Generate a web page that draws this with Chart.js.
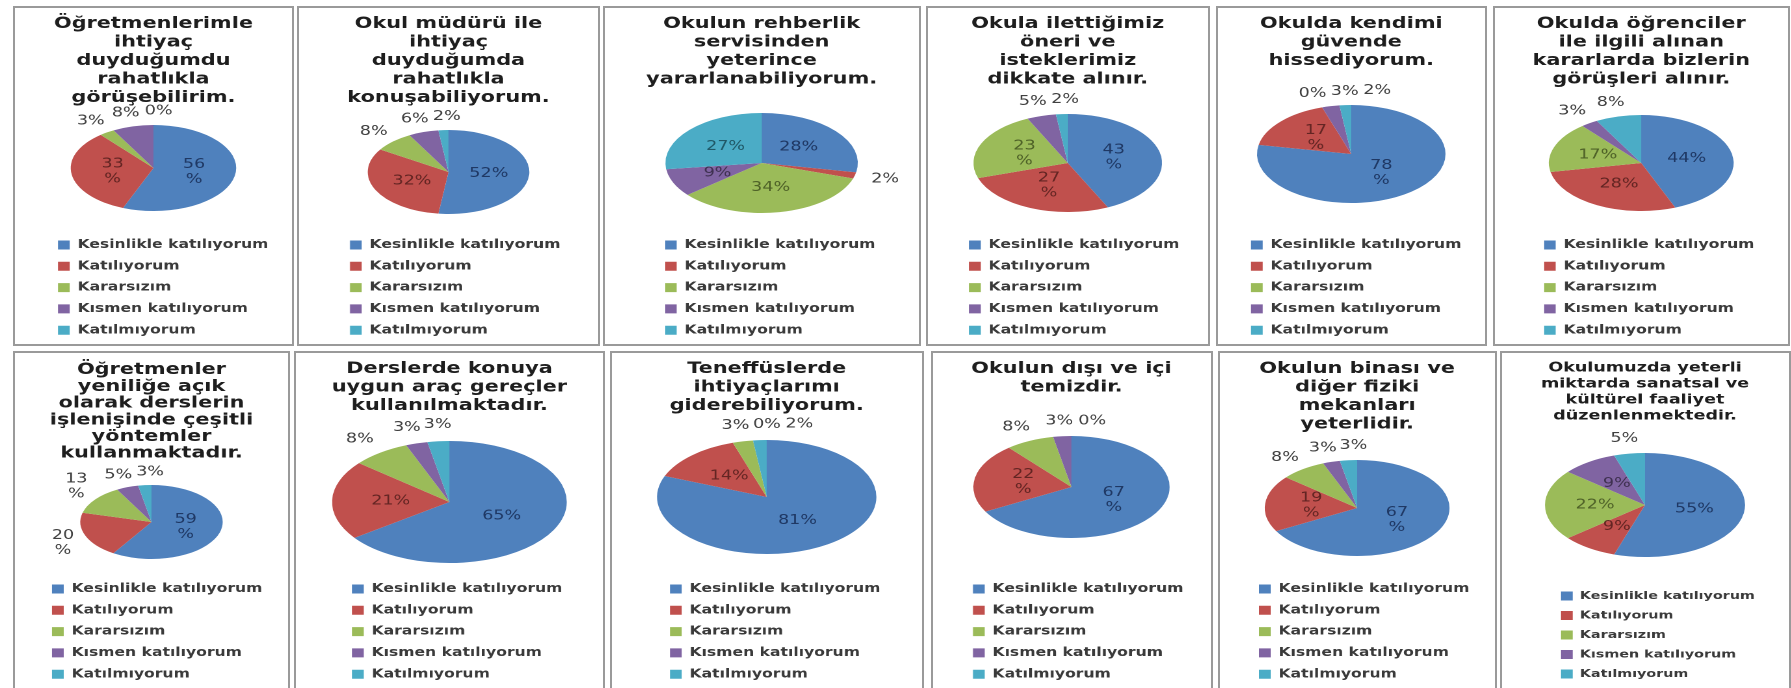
<!DOCTYPE html>
<html lang="tr">
<head>
<meta charset="UTF-8">
<title>Anket sonuçları</title>
<script src="https://cdn.jsdelivr.net/npm/chart.js"></script>
<style>
  html, body { margin: 0; padding: 0; width: 1791px; height: 688px; background: #fff; overflow: hidden; }
  .panel { position: absolute; box-sizing: border-box; border: 2px solid #9a9a9a; overflow: hidden; background: #fff; }
  .panel .inner { position: absolute; left: 0; top: 0; transform-origin: 0 0; }
</style>
</head>
<body>
<script>
// answer categories (legend) and slice colours
const categories = ['Kesinlikle katılıyorum', 'Katılıyorum', 'Kararsızım', 'Kısmen katılıyorum', 'Katılmıyorum'];
const sliceColors = ['#4F81BD', '#C0504D', '#9BBB59', '#8064A2', '#4BACC6'];
const darkColors = ['#1F3864', '#632523', '#4F6228', '#3F3151', '#205867'];

const titles = [
  ['Öğretmenlerimle', 'ihtiyaç', 'duyduğumdu', 'rahatlıkla', 'görüşebilirim.'],
  ['Okul müdürü ile', 'ihtiyaç', 'duyduğumda', 'rahatlıkla', 'konuşabiliyorum.'],
  ['Okulun rehberlik', 'servisinden', 'yeterince', 'yararlanabiliyorum.'],
  ['Okula ilettiğimiz', 'öneri ve', 'isteklerimiz', 'dikkate alınır.'],
  ['Okulda kendimi', 'güvende', 'hissediyorum.'],
  ['Okulda öğrenciler', 'ile ilgili alınan', 'kararlarda bizlerin', 'görüşleri alınır.'],
  ['Öğretmenler', 'yeniliğe açık', 'olarak derslerin', 'işlenişinde çeşitli', 'yöntemler', 'kullanmaktadır.'],
  ['Derslerde konuya', 'uygun araç gereçler', 'kullanılmaktadır.'],
  ['Teneffüslerde', 'ihtiyaçlarımı', 'giderebiliyorum.'],
  ['Okulun dışı ve içi', 'temizdir.'],
  ['Okulun binası ve', 'diğer fiziki', 'mekanları', 'yeterlidir.'],
  ['Okulumuzda yeterli', 'miktarda sanatsal ve', 'kültürel faaliyet', 'düzenlenmektedir.']
];

// percentages per question, in category order
const q01 = [56, 33, 3, 8, 0];
const q02 = [52, 32, 8, 6, 2];
const q03 = [28, 2, 34, 9, 27];
const q04 = [43, 27, 23, 5, 2];
const q05 = [78, 17, 0, 3, 2];
const q06 = [44, 28, 17, 3, 8];
const q07 = [59, 20, 13, 5, 3];
const q08 = [65, 21, 8, 3, 3];
const q09 = [81, 14, 3, 0, 2];
const q10 = [67, 22, 8, 3, 0];
const q11 = [67, 19, 8, 3, 3];
const q12 = [55, 9, 22, 9, 5];
const series = [q01, q02, q03, q04, q05, q06, q07, q08, q09, q10, q11, q12];

// layout (page pixels)
const panelLeft  = [13, 297, 603, 926, 1216, 1493, 13, 294, 610, 931, 1218, 1500];
const panelWidth = [281, 303, 318, 284, 271, 297, 277, 311, 314, 282, 279, 291];
const pieCenterY = [168, 172, 163, 163, 154, 163, 522, 502, 497, 487, 508, 505];
const pieRadius  = [43, 42, 50, 49, 49, 48, 37, 61, 57, 51, 48, 52];
const legendLeft = [45, 53, 62, 43, 35, 51, 39, 58, 60, 42, 41, 61];
const wrapLabels = [true, false, false, true, true, false, true, false, false, true, true, false];

const K = 1.3;        // horizontal stretch of each panel
const ELLIPSE = 1.48; // extra widening of the pies
const PAD = '\u00A0'.repeat(40);

Chart.defaults.font.family = 'DejaVu Sans';

const panelPlugin = {
  id: 'panelLayout',
  afterLayout(chart, args, o) {
    const a = chart.chartArea;
    a.top = o.cy - o.r;
    a.bottom = o.cy + o.r;
    a.height = 2 * o.r;
    const lg = chart.legend;
    const dx = o.legendX - (lg.left + lg.options.labels.padding);
    const dy = o.legendTop - lg.top;
    lg.left += dx; lg.right += dx;
    lg.top += dy; lg.bottom += dy;
  },
  beforeDatasetsDraw(chart, args, o) {
    const ctx = chart.ctx;
    const m = chart.getDatasetMeta(0).data[0];
    ctx.save();
    ctx.translate(m.x, m.y);
    ctx.scale(o.sx, 1);
    ctx.translate(-m.x, -m.y);
  },
  afterDatasetsDraw(chart, args, o) {
    const ctx = chart.ctx;
    ctx.restore();
    const meta = chart.getDatasetMeta(0);
    const vals = chart.data.datasets[0].data;
    ctx.save();
    ctx.font = '13.5px "DejaVu Sans"';
    ctx.textAlign = 'center';
    ctx.textBaseline = 'middle';
    const lh = 15;
    const placed = [];
    meta.data.forEach((arc, i) => {
      const v = vals[i];
      const ang = (arc.startAngle + arc.endAngle) / 2;
      const cx = Math.cos(ang), cy = Math.sin(ang);
      const r = arc.outerRadius;
      const rx = r * o.sx;
      const lines = (o.wrap && v >= 10) ? [String(v), '%'] : [v + '%'];
      const tw = Math.max(...lines.map(t => ctx.measureText(t).width));
      const th = lines.length * lh;
      let x, y;
      if (v >= o.insideMin) {
        x = arc.x + cx * rx * 0.5;
        y = arc.y + cy * r * 0.5;
        ctx.fillStyle = darkColors[i];
      } else {
        x = arc.x + cx * (rx * 1.18 + tw / 2);
        y = arc.y + cy * (r * 1.15 + th / 2);
        let guard = 0;
        while (guard++ < 100 && placed.some(b =>
          Math.abs(b.x - x) < (b.w + tw) / 2 + 2 && Math.abs(b.y - y) < (b.h + th) / 2)) {
          x += 2;
        }
        placed.push({x, y, w: tw, h: th});
        ctx.fillStyle = '#404040';
      }
      lines.forEach((t, j) => ctx.fillText(t, x, y - th / 2 + lh * (j + 0.5)));
    });
    ctx.restore();
  }
};

series.forEach((values, i) => {
  const top = i < 6 ? 6 : 351;
  const box = document.createElement('div');
  box.className = 'panel';
  box.style.left = panelLeft[i] + 'px';
  box.style.top = top + 'px';
  box.style.width = panelWidth[i] + 'px';
  box.style.height = '340px';
  document.body.appendChild(box);

  const w = (panelWidth[i] - 4) / K;
  const h = 336;
  const inner = document.createElement('div');
  inner.className = 'inner';
  inner.style.width = w + 'px';
  inner.style.height = h + 'px';
  inner.style.transform = 'scaleX(' + K + ')';
  box.appendChild(inner);
  const canvas = document.createElement('canvas');
  canvas.width = w;
  canvas.height = h;
  inner.appendChild(canvas);

  const y0 = top + 2;
  const small = i === 11;
  const titleSize = small ? 13.5 : 16;
  const titleLH = small ? 16 : (i === 6 ? 16.7 : 18.5);
  const titleFirst = i < 6 ? 24 : (i === 6 ? 370 : (small ? 368 : 369));
  const legendSize = small ? 11 : 12;
  const legendLH = small ? 19.5 : 21.3;
  const legendFirst = i < 6 ? 245 : (small ? 596 : 589);
  const legendPad = legendLH - legendSize;

  new Chart(canvas, {
    type: 'pie',
    data: {
      labels: categories,
      datasets: [{
        data: values,
        backgroundColor: sliceColors,
        borderWidth: 0,
        radius: pieRadius[i],
        clip: false
      }]
    },
    options: {
      responsive: false,
      devicePixelRatio: 2,
      animation: false,
      events: [],
      layout: { padding: 0 },
      plugins: {
        tooltip: { enabled: false },
        title: {
          display: true,
          text: titles[i],
          color: '#1e1e1e',
          font: { family: 'DejaVu Sans', size: titleSize, weight: 'bold', lineHeight: titleLH / titleSize },
          padding: { top: titleFirst - y0 - titleLH / 2, bottom: 0 }
        },
        legend: {
          position: 'bottom',
          align: 'start',
          labels: {
            color: '#3a3a3a',
            font: { family: 'DejaVu Sans', size: legendSize, weight: 'bold' },
            boxWidth: 9,
            boxHeight: 9,
            padding: legendPad,
            generateLabels: (chart) => Chart.overrides.doughnut.plugins.legend.labels
              .generateLabels(chart).map(l => Object.assign(l, { text: l.text + PAD }))
          }
        },
        panelLayout: {
          cy: pieCenterY[i] - y0,
          r: pieRadius[i],
          sx: ELLIPSE,
          legendX: (legendLeft[i] - 2) / K,
          legendTop: legendFirst - y0 - legendPad - legendSize / 2,
          wrap: wrapLabels[i],
          insideMin: i === 6 ? 50 : 9
        }
      }
    },
    plugins: [panelPlugin]
  });
});
</script>
</body>
</html>
